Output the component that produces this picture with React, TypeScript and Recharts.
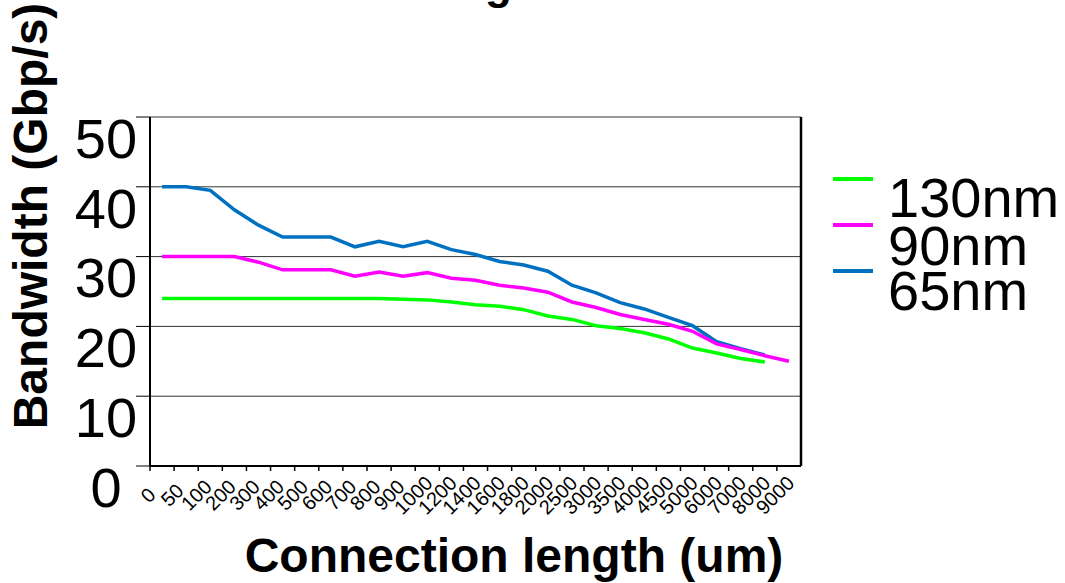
import React from 'react';
import { LineChart, Line, XAxis, YAxis, CartesianGrid, ReferenceLine, Legend } from 'recharts';

const categories = ['0', '50', '100', '200', '300', '400', '500', '600', '700', '800', '900', '1000', '1200', '1400', '1600', '1800', '2000', '2500', '3000', '3500', '4000', '4500', '5000', '6000', '7000', '8000', '9000'];
const nm130 = [24, 24, 24, 24, 24, 24, 24, 24, 24, 24, 23.9, 23.8, 23.5, 23.1, 22.9, 22.4, 21.5, 21.0, 20.1, 19.7, 19.1, 18.2, 16.9, 16.2, 15.4, 14.9, null];
const nm90 = [30, 30, 30, 30, 29.2, 28.1, 28.1, 28.1, 27.2, 27.8, 27.2, 27.7, 26.9, 26.6, 25.9, 25.5, 24.9, 23.5, 22.7, 21.7, 21.0, 20.3, 19.3, 17.5, 16.7, 15.8, 15.0];
const nm65 = [40, 40, 39.5, 36.7, 34.5, 32.8, 32.8, 32.8, 31.4, 32.2, 31.4, 32.2, 31.0, 30.3, 29.3, 28.8, 27.9, 25.9, 24.8, 23.4, 22.5, 21.3, 20.1, 17.8, 16.8, 15.9, null];
const yTicks = [0, 10, 20, 30, 40, 50];
const seriesNames = ['130nm', '90nm', '65nm'];
const seriesColors = ['#00FF00', '#FF00FF', '#0070C0'];

const title = 'Bandwidth Scaling';
const xTitle = 'Connection length (um)';
const yTitle = 'Bandwidth (Gbp/s)';

const FONT = 'Arial, "Liberation Sans", sans-serif';

const data = categories.map((c, i) => ({
  x: i + 0.5,
  label: c,
  nm130: nm130[i],
  nm90: nm90[i],
  nm65: nm65[i],
}));
const xTicks = categories.map((_, i) => i);

const YTick = (props: any) => {
  const { y, payload } = props;
  return (
    <text x={106} y={y + 21} dy="0.355em" textAnchor="middle" fontSize={56} fontFamily={FONT} fill="#000">
      {payload.value}
    </text>
  );
};

const XTick = (props: any) => {
  const { x, y, payload } = props;
  return (
    <text
      transform={`translate(${x + 3},${y + 27}) rotate(-45)`}
      textAnchor="middle"
      fontSize={20}
      fontFamily={FONT}
      fill="#000"
    >
      {categories[payload.value]}
    </text>
  );
};

const LegendContent = () => (
  <svg width={232} height={170} style={{ overflow: 'visible' }}>
    {seriesNames.map((n, i) => {
      const ly = [19, 65, 111][i];
      const ty = [57, 105, 150][i];
      return (
        <g key={n}>
          <line x1={0} x2={40} y1={ly} y2={ly} stroke={seriesColors[i]} strokeWidth={4} />
          <text x={55} y={ty} fontSize={56} fontFamily={FONT} fill="#000">{n}</text>
        </g>
      );
    })}
  </svg>
);

export default function App() {
  return (
    <div style={{ position: 'absolute', left: 0, top: 0, width: 1065, height: 583, background: '#fff' }}>
      <LineChart width={1065} height={583} data={data} margin={{ top: 117, right: 264, bottom: 87, left: 90 }}>
        <CartesianGrid vertical={false} stroke="#333" strokeWidth={1} />
        <XAxis
          type="number"
          dataKey="x"
          domain={[0, 27]}
          ticks={xTicks}
          interval={0}
          height={30}
          tickSize={5}
          tick={<XTick />}
          axisLine={{ stroke: '#000', strokeWidth: 2 }}
          tickLine={{ stroke: '#000', strokeWidth: 1.5 }}
        />
        <YAxis
          domain={[0, 50]}
          ticks={yTicks}
          width={60}
          tickSize={14}
          tick={<YTick />}
          axisLine={{ stroke: '#000', strokeWidth: 2 }}
          tickLine={{ stroke: '#000', strokeWidth: 1 }}
        />
        <ReferenceLine x={27} stroke="#000" strokeWidth={2.5} />
        <Line dataKey="nm65" name="65nm" stroke={seriesColors[2]} strokeWidth={3.5} dot={false} isAnimationActive={false} />
        <Line dataKey="nm90" name="90nm" stroke={seriesColors[1]} strokeWidth={3.5} dot={false} isAnimationActive={false} />
        <Line dataKey="nm130" name="130nm" stroke={seriesColors[0]} strokeWidth={3.5} dot={false} isAnimationActive={false} />
        <Legend
          layout="horizontal"
          verticalAlign="middle"
          align="center"
          content={<LegendContent />}
          wrapperStyle={{ position: 'absolute', left: 833, top: 160, width: 232, height: 170 }}
        />
        <text x={512} y={-1} textAnchor="end" fontSize={44} fontWeight="bold" fontFamily={FONT} fill="#000">{title}</text>
        <text x={514} y={572} textAnchor="middle" fontSize={48} fontWeight="bold" fontFamily={FONT} fill="#000">{xTitle}</text>
        <text x={47} y={216} textAnchor="middle" fontSize={48} fontWeight="bold" fontFamily={FONT} fill="#000" transform="rotate(-90, 47, 216)">{yTitle}</text>
      </LineChart>
    </div>
  );
}
